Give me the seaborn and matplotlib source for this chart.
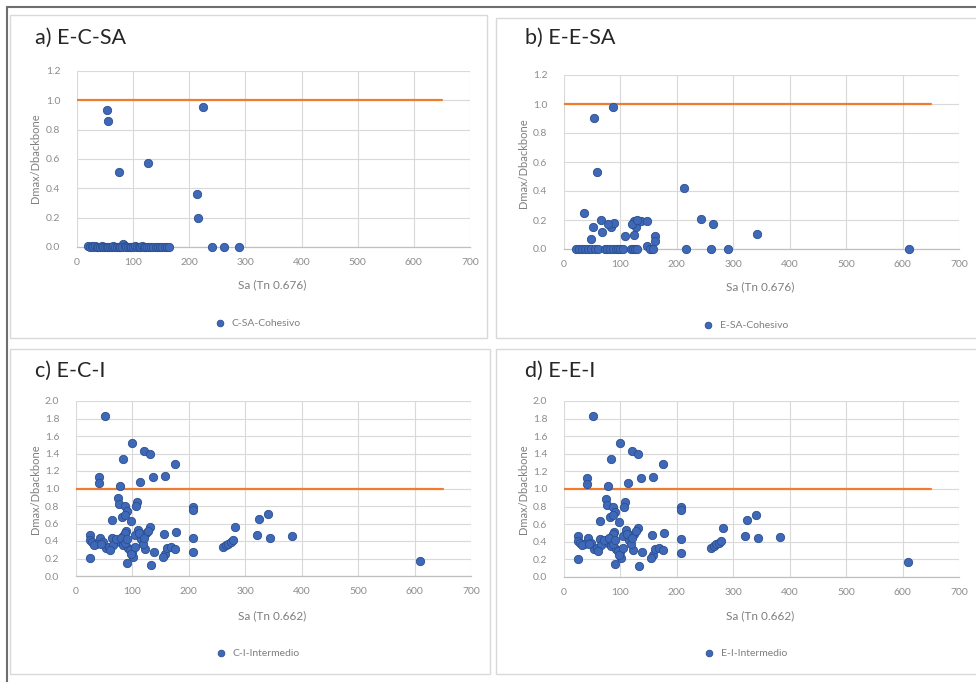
import matplotlib
matplotlib.use("Agg")
import matplotlib.pyplot as plt
from matplotlib.patches import Rectangle
from matplotlib.lines import Line2D
import seaborn as sns

# ---------------- data ----------------
# a) E-C-SA : C-SA-Cohesivo
sa_c_sa = [53.5, 56, 75, 126, 225, 213, 216, 82, 241, 261, 289,
           20, 23, 26, 29, 32, 35, 38, 41, 44, 47, 50, 53, 56, 59, 62, 65,
           68, 71, 74, 77, 80, 85, 88, 91, 94, 97, 100, 103, 106, 110, 113,
           116, 119, 122, 125, 128, 132, 136, 140, 144, 148, 152, 156, 160, 164]
ratio_c_sa = [0.934, 0.857, 0.51, 0.57, 0.956, 0.362, 0.196, 0.02, 0.0, 0.0, 0.0,
              0.005, 0.0, 0.01, 0.0, 0.005, 0.0, 0.0, 0.0, 0.005, 0.0, 0.0, 0.0, 0.0, 0.0, 0.0, 0.005,
              0.0, 0.0, 0.0, 0.0, 0.0, 0.005, 0.0, 0.0, 0.0, 0.0, 0.0, 0.005, 0.0, 0.0, 0.0,
              0.01, 0.0, 0.0, 0.0, 0.0, 0.0, 0.0, 0.0, 0.0, 0.0, 0.0, 0.0, 0.0, 0.0]

# b) E-E-SA : E-SA-Cohesivo
sa_e_sa = [86, 54, 58, 213, 35.5, 242, 264, 342, 217, 260, 290, 611,
           65, 51.5, 68, 47, 84, 88.6, 78, 108, 123.6, 127, 124, 137, 147, 161,
           162, 147, 154, 120, 130,
           22, 27, 32, 37, 42, 48, 55, 60, 72, 77, 82, 87, 92, 96, 100, 104,
           118, 122, 126, 130, 152, 158]
ratio_e_sa = [0.977, 0.906, 0.53, 0.42, 0.25, 0.206, 0.17, 0.105, 0.0, 0.0, 0.0, 0.0,
              0.20, 0.155, 0.12, 0.07, 0.155, 0.18, 0.17, 0.09, 0.19, 0.155, 0.10, 0.19, 0.19, 0.09,
              0.055, 0.02, 0.0, 0.17, 0.20,
              0.0, 0.0, 0.0, 0.0, 0.0, 0.0, 0.0, 0.0, 0.0, 0.0, 0.0, 0.0, 0.0, 0.0, 0.0, 0.0,
              0.0, 0.0, 0.0, 0.0, 0.0, 0.0]

# c) E-C-I : C-I-Intermedio
sa_c_i = [51, 99, 121, 131, 83, 176, 41, 41, 136, 157, 114, 78,
          74, 77, 87, 108, 106, 91, 82, 98, 64, 87, 208, 208,
          131, 109, 124, 156, 177, 88, 105, 208, 115, 25, 25, 43,
          28, 36, 48, 54, 63, 71, 78, 83, 87, 84, 93, 99, 101, 25,
          91, 133, 122, 139, 158, 161, 169, 175, 154, 208,
          282, 325, 340, 320, 344, 383, 609, 261, 266, 270, 274, 278,
          32, 45, 58, 66, 70, 80, 86, 90, 95, 97, 112, 118, 104, 120, 128, 60]
ratio_c_i = [1.826, 1.52, 1.43, 1.40, 1.34, 1.28, 1.13, 1.06, 1.13, 1.14, 1.07, 1.03,
             0.89, 0.82, 0.80, 0.85, 0.80, 0.74, 0.68, 0.63, 0.64, 0.70, 0.79, 0.76,
             0.56, 0.53, 0.49, 0.48, 0.50, 0.51, 0.47, 0.43, 0.42, 0.47, 0.41, 0.44,
             0.39, 0.37, 0.39, 0.32, 0.43, 0.40, 0.39, 0.46, 0.49, 0.35, 0.32, 0.28, 0.22, 0.205,
             0.15, 0.13, 0.31, 0.28, 0.25, 0.32, 0.33, 0.31, 0.22, 0.27,
             0.56, 0.65, 0.71, 0.47, 0.44, 0.46, 0.17, 0.33, 0.35, 0.37, 0.39, 0.41,
             0.36, 0.37, 0.33, 0.36, 0.42, 0.44, 0.38, 0.42, 0.30, 0.25, 0.49, 0.37, 0.33, 0.44, 0.52, 0.30]

# d) E-E-I : E-I-Intermedio
sa_e_i = [51, 99, 121, 131, 83, 176, 41, 41, 136, 157, 114, 78,
          74, 77, 87, 108, 106, 91, 82, 98, 64, 87, 208, 208,
          131, 109, 124, 156, 177, 88, 105, 208, 115, 25, 25, 43,
          28, 36, 48, 54, 63, 71, 78, 83, 87, 84, 93, 99, 101, 25,
          91, 133, 122, 139, 158, 161, 169, 175, 154, 208,
          282, 325, 340, 320, 344, 383, 609, 261, 266, 270, 274, 278,
          32, 45, 58, 66, 70, 80, 86, 90, 95, 97, 112, 118, 104, 120, 128, 60]
ratio_e_i = [1.826, 1.52, 1.43, 1.40, 1.34, 1.28, 1.13, 1.06, 1.13, 1.14, 1.07, 1.03,
             0.89, 0.82, 0.80, 0.85, 0.80, 0.74, 0.68, 0.63, 0.64, 0.70, 0.79, 0.76,
             0.56, 0.53, 0.49, 0.48, 0.50, 0.51, 0.47, 0.43, 0.42, 0.47, 0.41, 0.44,
             0.39, 0.37, 0.39, 0.32, 0.43, 0.40, 0.39, 0.46, 0.49, 0.35, 0.32, 0.28, 0.22, 0.205,
             0.15, 0.13, 0.31, 0.28, 0.25, 0.32, 0.33, 0.31, 0.22, 0.27,
             0.56, 0.65, 0.71, 0.47, 0.44, 0.46, 0.17, 0.33, 0.35, 0.37, 0.39, 0.41,
             0.36, 0.37, 0.33, 0.36, 0.42, 0.44, 0.38, 0.42, 0.30, 0.25, 0.49, 0.37, 0.33, 0.44, 0.52, 0.30]

# limit line Dmax/Dbackbone = 1
limit_x = [0, 650]
limit_y = [1.0, 1.0]

x_ticks = [0, 100, 200, 300, 400, 500, 600, 700]
y_ticks_sa = [0.0, 0.2, 0.4, 0.6, 0.8, 1.0, 1.2]
y_ticks_i = [0.0, 0.2, 0.4, 0.6, 0.8, 1.0, 1.2, 1.4, 1.6, 1.8, 2.0]

panels = [
    dict(title="a) E-C-SA", series="C-SA-Cohesivo", x=sa_c_sa, y=ratio_c_sa,
         xlabel="Sa (Tn 0.676)", yticks=y_ticks_sa,
         box=(77, 470, 71, 247), frame=(10, 487, 15, 338),
         title_xy=(35, 38), xlabel_xy=(272, 285), ylabel_xy=(35, 158), leg_xy=(255, 323)),
    dict(title="b) E-E-SA", series="E-SA-Cohesivo", x=sa_e_sa, y=ratio_e_sa,
         xlabel="Sa (Tn 0.676)", yticks=y_ticks_sa,
         box=(564, 959, 75, 249), frame=(496, 990, 18, 338),
         title_xy=(525, 38), xlabel_xy=(760, 287), ylabel_xy=(523, 163), leg_xy=(743, 325)),
    dict(title="c) E-C-I", series="C-I-Intermedio", x=sa_c_i, y=ratio_c_i,
         xlabel="Sa (Tn 0.662)", yticks=y_ticks_i,
         box=(76, 471, 401, 576), frame=(10, 490, 349, 674),
         title_xy=(35, 371), xlabel_xy=(272, 616), ylabel_xy=(35, 489), leg_xy=(255, 653)),
    dict(title="d) E-E-I", series="E-I-Intermedio", x=sa_e_i, y=ratio_e_i,
         xlabel="Sa (Tn 0.662)", yticks=y_ticks_i,
         box=(564, 959, 401, 577), frame=(496, 990, 349, 674),
         title_xy=(525, 371), xlabel_xy=(760, 616), ylabel_xy=(523, 489), leg_xy=(743, 653)),
]

# ---------------- styling ----------------
sns.set_theme(style="white")
plt.rcParams["font.family"] = ["Lato", "DejaVu Sans"]

W, H = 976, 682
fig = plt.figure(figsize=(W / 100, H / 100), dpi=100)
fig.patch.set_facecolor("white")

POINT = "#3F69B8"
POINT_EDGE = "#2A4F8F"
LIMIT = "#ED7D31"
GRID = "#D9D9D9"
TICK = "#8C8C8C"
LABEL = "#7F7F7F"
TITLE = "#262626"


def fx(px):
    return px / W


def fy(py):
    return 1 - py / H


# outer frame lines and chart-area borders
fig.add_artist(Line2D([fx(7), fx(7)], [fy(7), fy(682)], color="#6E6E6E", lw=1.5,
                      transform=fig.transFigure))
fig.add_artist(Line2D([fx(7), fx(976)], [fy(7), fy(7)], color="#6E6E6E", lw=1.5,
                      transform=fig.transFigure))

for p in panels:
    l, r, t, b = p["frame"]
    fig.add_artist(Rectangle((fx(l), fy(b)), fx(r - l), (b - t) / H, fill=False,
                             edgecolor="#D9D9D9", lw=1.0, transform=fig.transFigure))

for p in panels:
    l, r, t, b = p["box"]
    ax = fig.add_axes([fx(l), fy(b), fx(r - l), (b - t) / H])
    ax.set_facecolor("white")

    sns.lineplot(x=limit_x, y=limit_y, ax=ax, color=LIMIT, lw=1.6, legend=False,
                 zorder=3)
    sns.scatterplot(x=p["x"], y=p["y"], ax=ax, color=POINT, edgecolor=POINT_EDGE,
                    linewidth=0.6, s=36, label=p["series"], clip_on=False, zorder=4)

    ax.set_xlim(0, 700)
    ax.set_ylim(p["yticks"][0], p["yticks"][-1])
    ax.set_xticks(x_ticks)
    ax.set_yticks(p["yticks"])
    ax.set_xticklabels([str(v) for v in x_ticks])
    ax.set_yticklabels([f"{v:.1f}" for v in p["yticks"]])
    ax.tick_params(axis="both", length=0, labelsize=7.5, labelcolor=TICK)
    ax.tick_params(axis="x", pad=8)
    ax.tick_params(axis="y", pad=12)

    ax.grid(True, color=GRID, lw=0.8)
    ax.set_axisbelow(True)
    for side in ("top", "right", "left"):
        ax.spines[side].set_visible(False)
    ax.spines["bottom"].set_color("#BFBFBF")
    ax.spines["bottom"].set_linewidth(0.9)

    ax.set_xlabel("")
    ax.set_ylabel("")
    fig.text(fx(p["xlabel_xy"][0]), fy(p["xlabel_xy"][1]), p["xlabel"],
             ha="center", va="center", fontsize=8.5, color=LABEL)
    fig.text(fx(p["ylabel_xy"][0]), fy(p["ylabel_xy"][1]), "Dmax/Dbackbone",
             ha="center", va="center", rotation=90, fontsize=8, color=LABEL)
    fig.text(fx(p["title_xy"][0]), fy(p["title_xy"][1]), p["title"],
             ha="left", va="center", fontsize=15.5, color=TITLE)

    ax.legend(loc="center", bbox_to_anchor=(fx(p["leg_xy"][0]), fy(p["leg_xy"][1])),
              bbox_transform=fig.transFigure, frameon=False, fontsize=7.5,
              handletextpad=0.1, borderaxespad=0, labelcolor=LABEL, markerscale=0.8)

fig.savefig("out.png", dpi=100, facecolor="white")
